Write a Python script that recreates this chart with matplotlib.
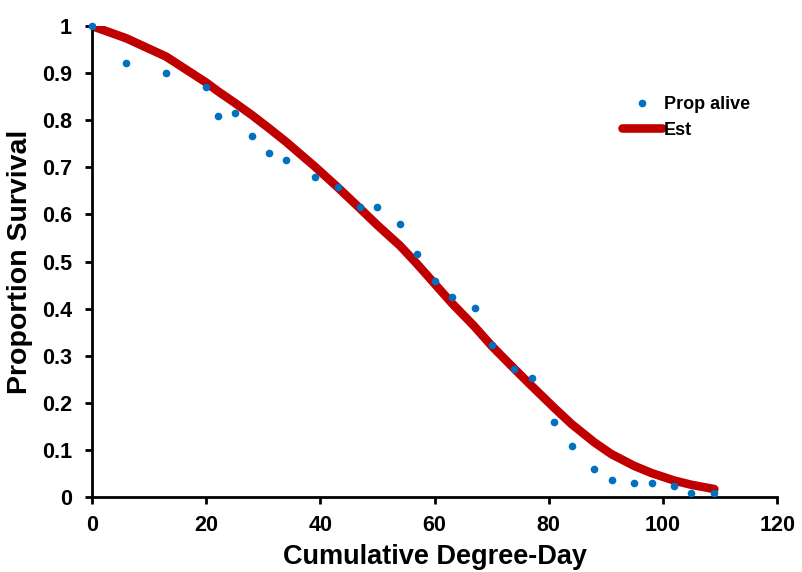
import matplotlib
matplotlib.use("Agg")
import matplotlib.pyplot as plt

plt.rcParams["font.family"] = ["Liberation Sans", "DejaVu Sans"]
plt.rcParams["font.weight"] = "bold"

# Observed survival
degree_day = [0, 6, 13, 20, 22, 25, 28, 31, 34, 39, 43, 47, 50, 54, 57,
              60, 63, 67, 70, 74, 77, 81, 84, 88, 91, 95, 98, 102, 105, 109]
prop_alive = [1.0, 0.921, 0.900, 0.870, 0.809, 0.815, 0.766, 0.730, 0.715, 0.679,
              0.658, 0.616, 0.616, 0.580, 0.516, 0.459, 0.425, 0.401, 0.323, 0.272,
              0.253, 0.159, 0.108, 0.059, 0.036, 0.030, 0.030, 0.023, 0.008, 0.008]
# Fitted estimate
est = [1.0, 0.974, 0.935, 0.880, 0.862, 0.837, 0.811, 0.783, 0.754, 0.702,
       0.658, 0.612, 0.577, 0.533, 0.494, 0.453, 0.412, 0.362, 0.321, 0.272,
       0.236, 0.189, 0.155, 0.116, 0.091, 0.066, 0.051, 0.035, 0.026, 0.017]

x_ticks = [0, 20, 40, 60, 80, 100, 120]
y_ticks = [0, 0.1, 0.2, 0.3, 0.4, 0.5, 0.6, 0.7, 0.8, 0.9, 1]
y_tick_labels = ["0", "0.1", "0.2", "0.3", "0.4", "0.5", "0.6", "0.7", "0.8", "0.9", "1"]

RED = "#C00000"
BLUE = "#0070C0"

fig = plt.figure(figsize=(8.02, 5.72), dpi=100)
ax = fig.add_axes([0.1147, 0.131, 0.8543, 0.8235])

ax.plot(degree_day, est, "-", color=RED, linewidth=6.2, solid_capstyle="round",
        solid_joinstyle="round", label="Est", zorder=2)
ax.plot(degree_day, prop_alive, "o", color=BLUE, markersize=5.5, markeredgewidth=0,
        label="Prop alive", zorder=3, clip_on=False)

ax.set_xlim(0, 120)
ax.set_ylim(0, 1)
ax.set_xticks(x_ticks)
ax.set_yticks(y_ticks)
ax.set_yticklabels(y_tick_labels)
ax.tick_params(direction="out", length=5, width=2, labelsize=15.5)
ax.tick_params(axis="x", pad=8)
ax.tick_params(axis="y", pad=9.5)

for side in ("top", "right"):
    ax.spines[side].set_visible(False)
for side in ("left", "bottom"):
    ax.spines[side].set_linewidth(2)

ax.set_xlabel("Cumulative Degree-Day", fontsize=19.5, fontweight="bold", labelpad=6)
ax.set_ylabel("Proportion Survival", fontsize=20.5, fontweight="bold", labelpad=6)

handles, labels = ax.get_legend_handles_labels()
ax.legend(handles[::-1], labels[::-1], loc="upper left", bbox_to_anchor=(0.75, 0.885),
          frameon=False, fontsize=13, handlelength=2.2, handletextpad=0.1,
          labelspacing=0.45)

fig.savefig("out.png", dpi=100, facecolor="white")
